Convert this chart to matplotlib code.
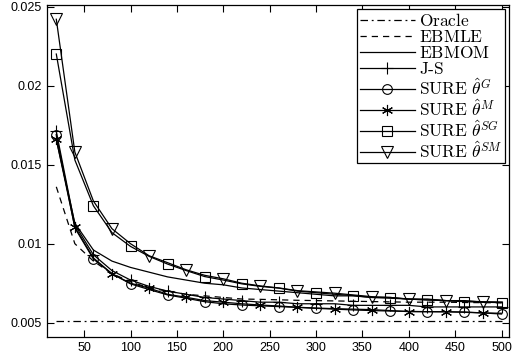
"""
Risk curves of the shrinkage estimators against n (MATLAB-style figure).
"""

import numpy as np
from matplotlib import pyplot as plt
from matplotlib.lines import Line2D

plt.rcParams['mathtext.fontset'] = 'cm'
plt.rcParams['font.family'] = ['Liberation Sans', 'DejaVu Sans']

n_values = [20, 40, 60, 80, 100, 120, 140, 160, 180, 200, 220, 240, 260,
            280, 300, 320, 340, 360, 380, 400, 420, 440, 460, 480, 500]

oracle = [0.00513] * 25
ebmle = [0.0136, 0.0100, 0.0089, 0.0081, 0.0076, 0.0072, 0.0070, 0.0068, 0.0067,
         0.0066, 0.0065, 0.00648, 0.00645, 0.00642, 0.0064, 0.00638, 0.00636,
         0.00634, 0.00632, 0.0063, 0.0063, 0.0063, 0.00628, 0.00627, 0.00626]
ebmom = [0.0166, 0.0113, 0.0096, 0.0089, 0.0085, 0.0082, 0.0079, 0.0077, 0.0075,
         0.0074, 0.0072, 0.0071, 0.0070, 0.0069, 0.0068, 0.0067, 0.0067, 0.0066,
         0.0066, 0.0065, 0.0065, 0.0064, 0.0064, 0.0063, 0.0063]
james_stein = [0.0171, 0.0112, 0.0093, 0.0083, 0.0077, 0.0073, 0.0070, 0.0068,
               0.0066, 0.0065, 0.0064, 0.0063, 0.0063, 0.0062, 0.0062, 0.0062,
               0.0061, 0.0061, 0.0061, 0.0061, 0.0060, 0.0060, 0.0060, 0.0060, 0.0060]
sure_g = [0.0169, 0.0110, 0.00903, 0.0081, 0.00746, 0.0071, 0.00676, 0.00655,
          0.00633, 0.0062, 0.00612, 0.00607, 0.00602, 0.00597, 0.00591, 0.00586,
          0.00581, 0.00577, 0.00574, 0.00572, 0.0057, 0.00569, 0.00568, 0.00562, 0.00555]
sure_m = [0.0166, 0.01106, 0.0091, 0.0081, 0.0075, 0.00719, 0.0068, 0.00661,
          0.0064, 0.0063, 0.0062, 0.00612, 0.00606, 0.00598, 0.00593, 0.00589,
          0.00586, 0.00583, 0.00577, 0.0057, 0.0057, 0.0057, 0.00566, 0.00562, 0.0056]
sure_sg = [0.0220, 0.0153, 0.0124, 0.0107, 0.00983, 0.0092, 0.00871, 0.0083,
           0.00792, 0.0077, 0.00746, 0.0073, 0.00719, 0.0070, 0.0069, 0.0068,
           0.00672, 0.0066, 0.00655, 0.0065, 0.00644, 0.0064, 0.00633, 0.0063, 0.00627]
sure_sm = [0.0242, 0.0158, 0.0127, 0.01095, 0.0100, 0.00924, 0.0088, 0.00835,
           0.0080, 0.00778, 0.0075, 0.00733, 0.0072, 0.00703, 0.00695, 0.00687,
           0.00676, 0.00665, 0.0066, 0.00649, 0.00645, 0.0064, 0.00637, 0.00633, 0.0063]

# legend text, drawn in Computer Modern via mathtext
labels = [r'$\mathrm{Oracle}$', r'$\mathrm{EBMLE}$', r'$\mathrm{EBMOM}$',
          r'$\mathrm{J\text{-}S}$',
          r'$\mathrm{SURE}\ \hat{\theta}^{G}$', r'$\mathrm{SURE}\ \hat{\theta}^{M}$',
          r'$\mathrm{SURE}\ \hat{\theta}^{SG}$', r'$\mathrm{SURE}\ \hat{\theta}^{SM}$']

# markers on every other point, two different phases
even_marks = list(range(0, 25, 2))
odd_marks = [0] + list(range(1, 25, 2))

asterisk = (6, 2, 0)  # matlab '*' : six spokes, not a filled star

series = [
    (oracle, dict(ls=(0, (6, 3, 1.5, 3)), marker=None), None),
    (ebmle, dict(ls=(0, (5, 4)), marker=None), None),
    (ebmom, dict(ls='-', marker=None), None),
    (james_stein, dict(ls='-', marker='+', ms=9), even_marks),
    (sure_g, dict(ls='-', marker='o', ms=7), even_marks),
    (sure_m, dict(ls='-', marker=asterisk, ms=8), odd_marks),
    (sure_sg, dict(ls='-', marker='s', ms=6.5), even_marks),
    (sure_sm, dict(ls='-', marker='v', ms=8.5), odd_marks),
]


def main():
    fig = plt.figure(figsize=(5.15, 3.6), dpi=100)
    ax = fig.add_axes([0.0913, 0.064, 0.897, 0.922])

    handles = []
    for (values, style, marks), label in zip(series, labels):
        ax.plot(n_values, values, color='black', lw=0.9, ls=style['ls'],
                marker=style['marker'], ms=style.get('ms', 6), mfc='none',
                mec='black', mew=0.8, markevery=marks)
        handles.append(Line2D([], [], color='black', lw=0.9, ls=style['ls'],
                              marker=style['marker'], ms=style.get('ms', 6),
                              mfc='none', mec='black', mew=0.8))

    ax.set_xlim(10, 508)
    ax.set_ylim(0.0041, 0.0251)
    ax.set_xticks(np.arange(50, 501, 50))
    ax.set_yticks([0.005, 0.01, 0.015, 0.02, 0.025])
    ax.set_yticklabels(['0.005', '0.01', '0.015', '0.02', '0.025'])
    ax.tick_params(direction='in', top=True, right=True, length=5, width=0.8,
                   labelsize=9)
    for spine in ax.spines.values():
        spine.set_linewidth(0.9)

    leg = ax.legend(handles, labels, loc='upper right',
                    handlelength=3.2, handletextpad=0.2, labelspacing=0.0,
                    borderpad=0.15, borderaxespad=0.25, fancybox=False,
                    framealpha=1, edgecolor='black', fontsize=12.5)
    leg.get_frame().set_linewidth(0.9)

    fig.savefig('out.png', dpi=100)


if __name__ == '__main__':
    main()
